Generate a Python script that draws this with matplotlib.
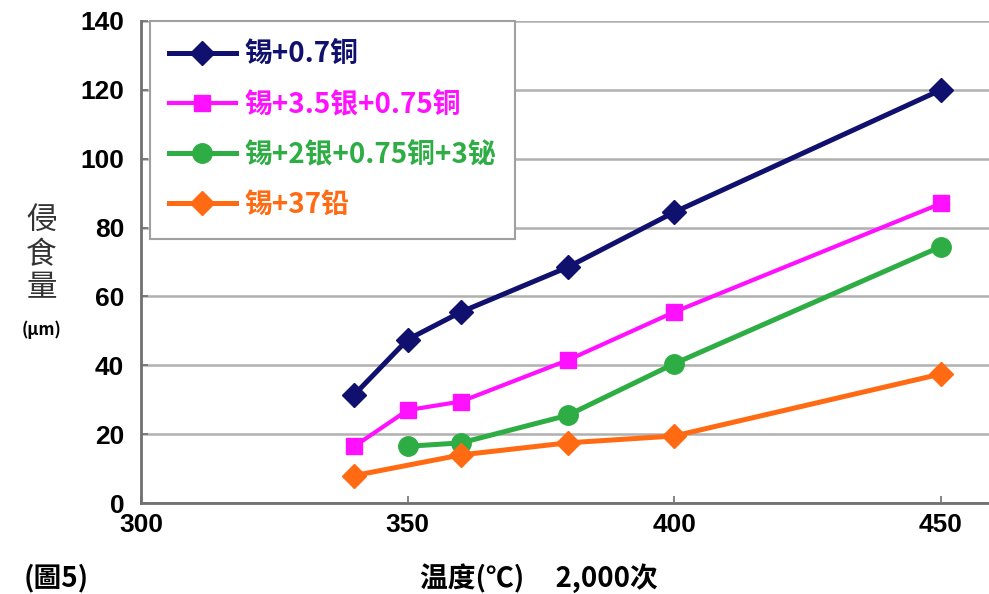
import matplotlib.pyplot as plt

# temperatures (deg C) and erosion amount (um)
x_sncu = [340, 350, 360, 380, 400, 450]
y_sncu = [31.5, 47.5, 55.5, 68.5, 84.5, 120]

x_sac = [340, 350, 360, 380, 400, 450]
y_sac = [16.5, 27, 29.5, 41.5, 55.5, 87]

x_sacb = [350, 360, 380, 400, 450]
y_sacb = [16.5, 17.5, 25.5, 40.5, 74.5]

x_snpb = [340, 360, 380, 400, 450]
y_snpb = [8, 14, 17.5, 19.5, 37.5]

labels = ["锡+0.7铜", "锡+3.5银+0.75铜", "锡+2银+0.75铜+3铋", "锡+37铅"]
colors = ["#10106e", "#ff10ff", "#2fad45", "#ff6a12"]

plt.rcParams['font.family'] = ['Noto Sans CJK SC', 'DejaVu Sans']

fig = plt.figure(figsize=(9.89, 5.94), dpi=100)
ax = fig.add_axes([0.1426, 0.153, 0.8574, 0.8117])

ax.plot(x_sncu, y_sncu, color=colors[0], marker='D', markersize=12, linewidth=3.6, label=labels[0])
ax.plot(x_sac, y_sac, color=colors[1], marker='s', markersize=11, linewidth=3.0, label=labels[1])
ax.plot(x_sacb, y_sacb, color=colors[2], marker='o', markersize=14, linewidth=3.6, label=labels[2])
ax.plot(x_snpb, y_snpb, color=colors[3], marker='D', markersize=12, linewidth=3.6, label=labels[3])

ax.set_xlim(300, 459)
ax.set_ylim(0, 140)
ax.set_xticks([300, 350, 400, 450])
ax.set_yticks(range(0, 141, 20))
ax.yaxis.grid(True, color='#b0b0b0', linewidth=1.8)
ax.set_axisbelow(True)

for s in ['top', 'right']:
    ax.spines[s].set_visible(False)
for s in ['left', 'bottom']:
    ax.spines[s].set_color('#707070')
    ax.spines[s].set_linewidth(2)

ax.tick_params(direction='in', length=5, color='#707070', width=1.2)
for t in ax.get_xticklabels() + ax.get_yticklabels():
    t.set_fontfamily(['Liberation Sans', 'DejaVu Sans'])
    t.set_fontweight('bold')
    t.set_fontsize(19)
ax.tick_params(axis='y', pad=12)
ax.tick_params(axis='x', pad=7)

leg = ax.legend(loc='upper left', bbox_to_anchor=(0.01, 1.0), fancybox=False,
                edgecolor='#a0a0a0', framealpha=1, handlelength=2.4,
                labelspacing=0.8, borderpad=0.7, handletextpad=0.3,
                borderaxespad=0, prop={'size': 20, 'weight': 'bold'})
leg.get_frame().set_linewidth(1.5)
for txt, c in zip(leg.get_texts(), colors):
    txt.set_color(c)

# y label, stacked vertically
fig.text(0.042, 0.572, "侵\n食\n量", fontsize=22, color='#333333', ha='center',
         va='center', linespacing=1.1)
fig.text(0.042, 0.445, "(µm)", fontsize=12, fontweight='bold', ha='center', va='center')

fig.text(0.545, 0.027, "温度(℃)     2,000次", fontsize=20, fontweight='bold',
         ha='center', va='center')
fig.text(0.057, 0.027, "(圖5)", fontsize=20, fontweight='bold', ha='center', va='center')

fig.savefig("out.png", dpi=100)
